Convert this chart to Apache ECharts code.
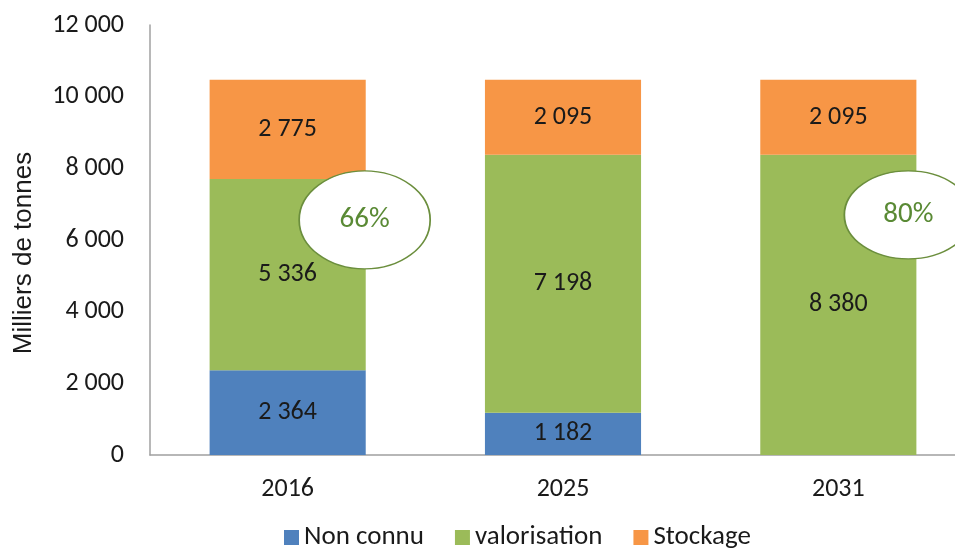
<!DOCTYPE html>
<html>
<head>
<meta charset="utf-8">
<script src="https://cdn.jsdelivr.net/npm/echarts@6/dist/echarts.min.js"></script>
<style>
  html, body { margin: 0; padding: 0; background: #fff; }
  #chart-container { width: 955px; height: 549px; }
</style>
</head>
<body>
<div id="chart-container"></div>
<script>
const years = ['2016', '2025', '2031'];
const nonConnu = [2364, 1182, 0];
const valorisation = [5336, 7198, 8380];
const stockage = [2775, 2095, 2095];
// bulles de taux de valorisation
const bubbles = [
  { year: '2016', y: 6560, text: '66%' },
  { year: '2031', y: 6700, text: '80%' }
];

const FONT = 'Carlito, Lato, "Open Sans", sans-serif';
const fmt = v => String(v).replace(/\B(?=(\d{3})+(?!\d))/g, ' ');

const myChart = echarts.init(document.getElementById('chart-container'));

const barLabel = {
  show: true,
  position: 'inside',
  color: '#1a1a1a',
  fontFamily: FONT,
  fontSize: 26,
  formatter: p => (p.value ? fmt(p.value) : '')
};

const ellipse = 'path://M0,50A65,50,0,1,1,130,50A65,50,0,1,1,0,50Z';

const option = {
  animation: false,
  grid: { left: 150, width: 826, top: 25, bottom: 94, outerBoundsMode: 'none' },
  legend: {
    bottom: -7,
    left: 279,
    itemWidth: 15,
    itemHeight: 15,
    itemGap: 31,
    icon: 'rect',
    textStyle: { fontFamily: FONT, fontSize: 27, color: '#1a1a1a' },
    data: ['Non connu', 'valorisation', 'Stockage']
  },
  xAxis: {
    type: 'category',
    data: years,
    axisLine: { lineStyle: { color: '#a0a0a0', width: 1.5 } },
    axisTick: { show: false },
    axisLabel: { fontFamily: FONT, fontSize: 26, color: '#1a1a1a', margin: 21 }
  },
  yAxis: {
    type: 'value',
    min: 0,
    max: 12000,
    interval: 2000,
    name: 'Milliers de tonnes',
    nameLocation: 'middle',
    nameGap: 113,
    nameTextStyle: {
      fontFamily: 'Liberation Sans, Arial, sans-serif', fontSize: 26, color: '#1a1a1a',
      padding: [0, 26, 0, 0]
    },
    axisLine: { show: true, lineStyle: { color: '#a0a0a0', width: 1.5 } },
    axisTick: { show: false },
    splitLine: { show: false },
    axisLabel: { fontFamily: FONT, fontSize: 26, color: '#1a1a1a', margin: 26, formatter: v => fmt(v) }
  },
  series: [
    {
      name: 'Non connu', type: 'bar', stack: 'tot', data: nonConnu,
      barWidth: '56.7%', itemStyle: { color: '#4f81bd' }, label: barLabel
    },
    {
      name: 'valorisation', type: 'bar', stack: 'tot', data: valorisation,
      itemStyle: { color: '#9bbb59' }, label: barLabel,
      markPoint: {
        symbol: ellipse,
        symbolKeepAspect: false,
        itemStyle: { color: '#fff', borderColor: '#6b8e3d', borderWidth: 1.5 },
        label: { show: true, formatter: '{b}', color: '#5a8a35', fontFamily: FONT, fontSize: 29 },
        data: [
          { name: bubbles[0].text, coord: [bubbles[0].year, bubbles[0].y], symbolSize: [131, 98], symbolOffset: [77, 0] },
          { name: bubbles[1].text, coord: [bubbles[1].year, bubbles[1].y], symbolSize: [128, 88], symbolOffset: [70, 0] }
        ]
      }
    },
    {
      name: 'Stockage', type: 'bar', stack: 'tot', data: stockage,
      itemStyle: { color: '#f79646' }, label: barLabel
    }
  ]
};

myChart.setOption(option);
</script>
</body>
</html>
